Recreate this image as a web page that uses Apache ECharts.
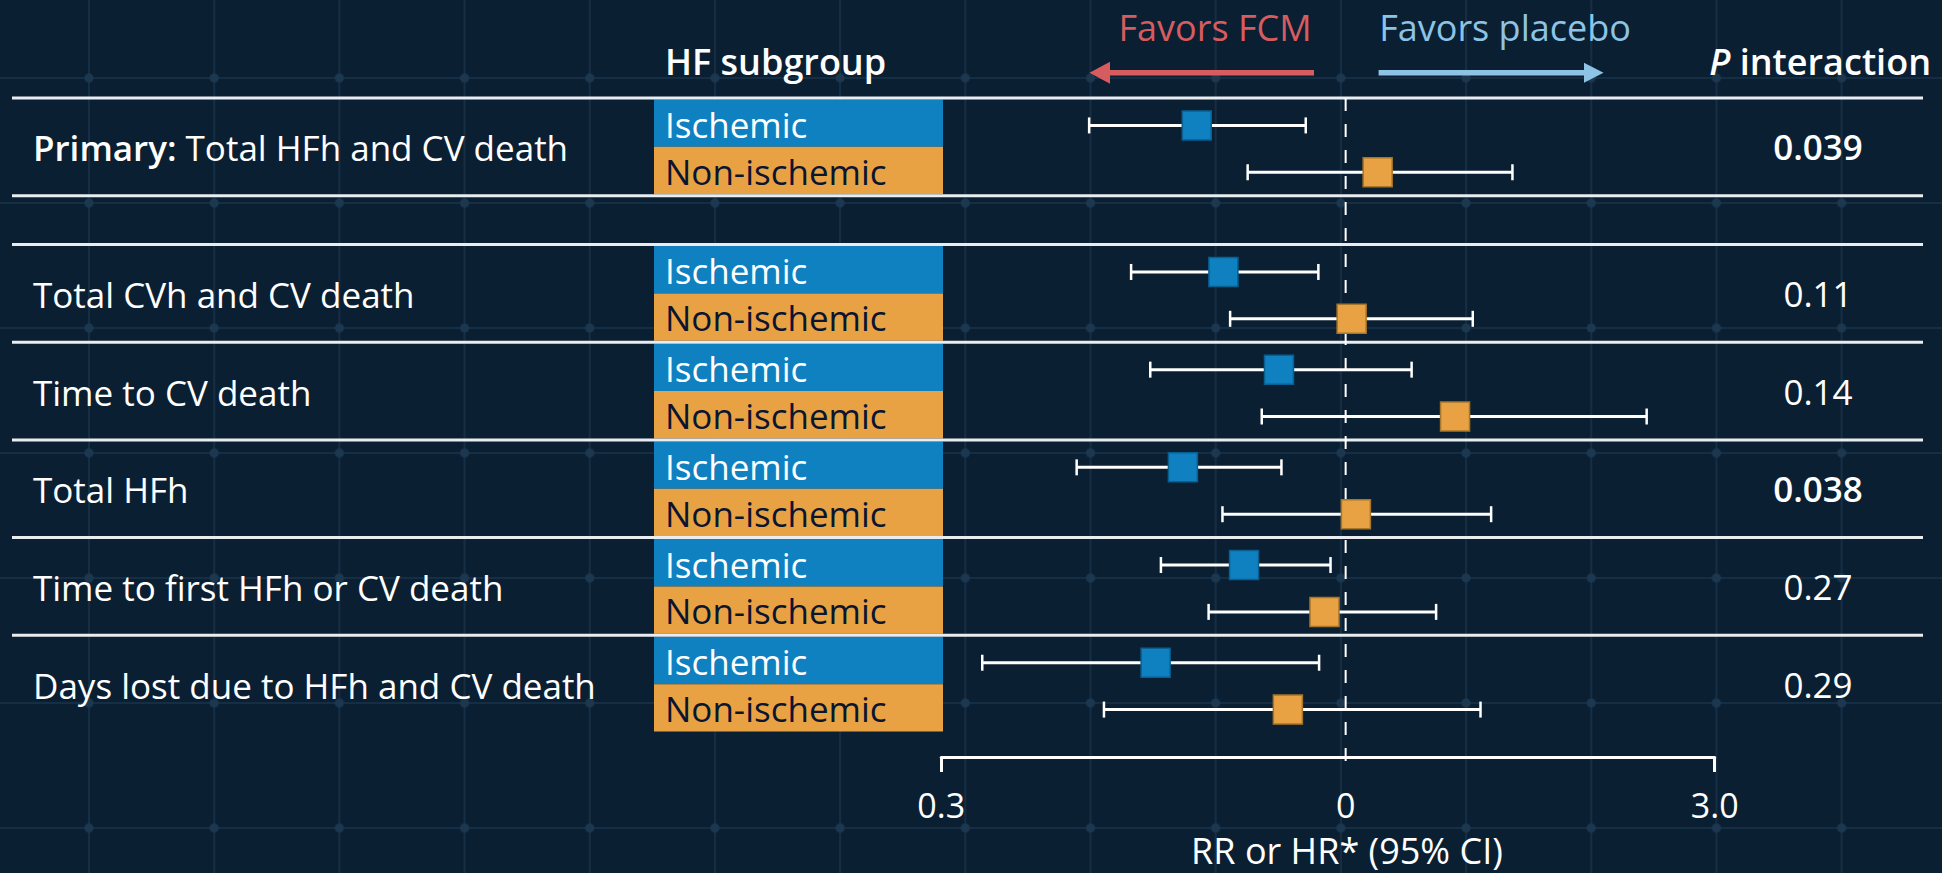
<!DOCTYPE html>
<html>
<head>
<meta charset="utf-8">
<script src="https://cdn.jsdelivr.net/npm/echarts@6/dist/echarts.min.js"></script>
<style>
html, body { margin: 0; padding: 0; width: 1942px; height: 873px; overflow: hidden; background: #0B1F32; }
#chart {
  width: 1942px; height: 873px;
  background-color: #0B1F32;
  background-image:
    radial-gradient(circle at center, #1C3850 0px, #1C3850 4px, transparent 5px),
    linear-gradient(to right, #162E44 2px, transparent 2px),
    linear-gradient(to bottom, #162E44 2px, transparent 2px);
  background-size: 125.2px 125px, 125.2px 125px, 125.2px 125px;
  background-position: 26.4px 15.5px, 88px 77px, 88px 77px;
}
</style>
</head>
<body>
<div id="chart"></div>
<script>
// ---------------- data ----------------
const outcomePrefix = ['Primary:', '', '', '', '', ''];
const outcomeNames = [
  'Total HFh and CV death',
  'Total CVh and CV death',
  'Time to CV death',
  'Total HFh',
  'Time to first HFh or CV death',
  'Days lost due to HFh and CV death'
];
const subgroups = ['Ischemic', 'Non-ischemic'];
const pInteraction = ['0.039', '0.11', '0.14', '0.038', '0.27', '0.29'];
const pSignificant = [true, false, false, true, false, false];

const ischemicEst  = [0.642, 0.695, 0.820, 0.616, 0.739, 0.568];
const ischemicLow  = [0.466, 0.528, 0.559, 0.449, 0.577, 0.339];
const ischemicHigh = [0.888, 0.922, 1.217, 0.826, 0.956, 0.924];

const nonIschemicEst  = [1.100, 1.018, 1.385, 1.031, 0.939, 0.842];
const nonIschemicLow  = [0.747, 0.709, 0.779, 0.693, 0.665, 0.487];
const nonIschemicHigh = [1.643, 1.460, 2.450, 1.542, 1.309, 1.494];

const tickValues = [0.3, 1, 3];
const tickLabels = ['0.3', '0', '3.0'];
const bracketTicks = [0.3, 3];
const axisTitle = 'RR or HR* (95% CI)';
const headerSubgroup = 'HF subgroup';
const headerP = 'P';
const headerInteraction = ' interaction';
const favorsLeft = 'Favors FCM';
const favorsRight = 'Favors placebo';
const nullValue = 1;

// ---------------- layout ----------------
// outcome 0 uses slots 0-1, slot 2 is a spacer, outcome i>0 uses slots 2i+1 and 2i+2
function slotOf(i) { return i === 0 ? 0 : 2 * i + 1; }
const slotNames = Array.from({ length: 13 }, (_, k) => 'slot' + k);

const FONT = '"Open Sans", Lato, sans-serif';
const WHITE = '#FFFFFF';
const BLUE = '#0F80C0';
const ORANGE = '#E8A243';
const NAVY = '#0B1530';

const chart = echarts.init(document.getElementById('chart'), null, { renderer: 'svg' });

function tickLabelFor(v) {
  let best = 0, bd = Infinity;
  tickValues.forEach((t, k) => { const d = Math.abs(Math.log(t) - Math.log(v)); if (d < bd) { bd = d; best = k; } });
  return tickLabels[best];
}

function whiskerRender(offsetY) {
  return function (params, api) {
    const s = api.value(2);
    const p1 = api.coord([api.value(0), s]);
    const p2 = api.coord([api.value(1), s]);
    const y = p1[1] + offsetY;
    const cap = 8;
    return {
      type: 'group',
      children: [
        { type: 'line', shape: { x1: p1[0], y1: y, x2: p2[0], y2: y }, style: { stroke: WHITE, lineWidth: 3 } },
        { type: 'line', shape: { x1: p1[0], y1: y - cap, x2: p1[0], y2: y + cap }, style: { stroke: WHITE, lineWidth: 2.5 } },
        { type: 'line', shape: { x1: p2[0], y1: y - cap, x2: p2[0], y2: y + cap }, style: { stroke: WHITE, lineWidth: 2.5 } }
      ]
    };
  };
}

const option = {
  animation: false,
  backgroundColor: 'transparent',
  grid: { left: 941.2, right: 227.3, top: 98, bottom: 139.3 },
  xAxis: {
    type: 'log',
    logBase: 10,
    min: 0.3,
    max: 3,
    offset: 24,
    axisLine: { show: true, lineStyle: { color: WHITE, width: 3 } },
    axisTick: { show: true, customValues: bracketTicks, length: 15, inside: false, lineStyle: { color: WHITE, width: 3 } },
    axisLabel: {
      show: true, customValues: tickValues, margin: 31,
      color: WHITE, fontSize: 34, fontFamily: FONT,
      formatter: v => tickLabelFor(v)
    },
    splitLine: { show: false },
    minorTick: { show: false },
    name: axisTitle,
    nameLocation: 'middle',
    nameGap: 75,
    nameTextStyle: { color: WHITE, fontSize: 36, fontFamily: FONT, padding: [0, 0, 0, 38] }
  },
  yAxis: {
    type: 'category',
    data: slotNames,
    inverse: true,
    show: false
  },
  graphic: [
    { type: 'text', x: 665, y: 61, style: { text: headerSubgroup, fill: WHITE, fontSize: 36, fontWeight: 600, fontFamily: FONT, verticalAlign: 'middle' } },
    { type: 'text', x: 1931, y: 61, style: {
        text: '{i|' + headerP + '}{n|' + headerInteraction + '}', fill: WHITE, align: 'right', verticalAlign: 'middle',
        rich: {
          i: { fontSize: 36, fontWeight: 600, fontStyle: 'italic', fontFamily: FONT, fill: WHITE },
          n: { fontSize: 36, fontWeight: 600, fontFamily: FONT, fill: WHITE }
        } } },
    { type: 'text', x: 1215, y: 27, style: { text: favorsLeft, fill: '#D65C5F', fontSize: 36, fontFamily: FONT, align: 'center', verticalAlign: 'middle' } },
    { type: 'text', x: 1505, y: 27, style: { text: favorsRight, fill: '#8DC4E5', fontSize: 36, fontFamily: FONT, align: 'center', verticalAlign: 'middle' } },
    { type: 'line', shape: { x1: 1314, y1: 72.7, x2: 1106, y2: 72.7 }, style: { stroke: '#D65C5F', lineWidth: 5.5 } },
    { type: 'polygon', shape: { points: [[1089.5, 72.7], [1110, 61.7], [1110, 83.7]] }, style: { fill: '#D65C5F' } },
    { type: 'line', shape: { x1: 1378.6, y1: 72.7, x2: 1588, y2: 72.7 }, style: { stroke: '#8DC4E5', lineWidth: 5.5 } },
    { type: 'polygon', shape: { points: [[1603.5, 72.7], [1584, 62.7], [1584, 82.7]] }, style: { fill: '#8DC4E5' } }
  ],
  series: [
    {
      // table: row labels, subgroup boxes, P values, separator lines
      type: 'custom',
      z: 1,
      clip: false,
      silent: true,
      encode: { x: 0, y: 1 },
      data: outcomeNames.map((_, i) => [nullValue, slotOf(i), i]),
      renderItem: function (params, api) {
        const i = api.value(2);
        const s = api.value(1);
        const c = api.coord([nullValue, s]);
        const band = api.size([0, 1])[1];
        const top = c[1] - band / 2;
        const mid = top + band;
        const children = [];
        children.push({ type: 'rect', shape: { x: 654, y: top + 1.5, width: 289, height: band - 1.5 }, style: { fill: BLUE } });
        children.push({ type: 'rect', shape: { x: 654, y: mid, width: 289, height: band - 1.5 }, style: { fill: ORANGE } });
        children.push({ type: 'text', style: { text: subgroups[0], x: 665, y: top + band / 2 + 2, fill: WHITE, fontSize: 35, fontFamily: FONT, verticalAlign: 'middle' } });
        children.push({ type: 'text', style: { text: subgroups[1], x: 665, y: mid + band / 2, fill: NAVY, fontSize: 35, fontFamily: FONT, verticalAlign: 'middle' } });
        const label = outcomePrefix[i] ? '{b|' + outcomePrefix[i] + '} ' + outcomeNames[i] : outcomeNames[i];
        children.push({ type: 'text', style: {
          text: label, x: 33, y: mid + 1, fill: WHITE, fontSize: 35, fontFamily: FONT, verticalAlign: 'middle',
          rich: { b: { fontWeight: 600, fontSize: 35, fontFamily: FONT, fill: WHITE } }
        } });
        children.push({ type: 'text', style: {
          text: pInteraction[i], x: 1818, y: mid, fill: WHITE, fontSize: 35, fontFamily: FONT,
          fontWeight: pSignificant[i] ? 600 : 'normal', align: 'center', verticalAlign: 'middle'
        } });
        children.push({ type: 'line', shape: { x1: 12, y1: top, x2: 1923, y2: top }, style: { stroke: '#E9EDF0', lineWidth: 3 } });
        if (i === 0) {
          children.push({ type: 'line', shape: { x1: 12, y1: top + 2 * band, x2: 1923, y2: top + 2 * band }, style: { stroke: '#E9EDF0', lineWidth: 3 } });
        }
        return { type: 'group', children: children };
      }
    },
    {
      // null reference line at RR = 1
      type: 'custom',
      z: 2,
      clip: false,
      silent: true,
      encode: { x: 0, y: 1 },
      data: [[nullValue, 0]],
      renderItem: function (params, api) {
        const band = api.size([0, 1])[1];
        const a = api.coord([nullValue, 0]);
        const b = api.coord([nullValue, slotNames.length - 1]);
        return { type: 'line', shape: { x1: a[0], y1: a[1] - band / 2, x2: b[0], y2: b[1] + band / 2 + 41 },
          style: { stroke: WHITE, lineWidth: 2, lineDash: [13, 13] } };
      }
    },
    {
      type: 'custom', name: subgroups[0], z: 3, silent: true,
      encode: { x: [0, 1], y: 2 },
      data: outcomeNames.map((_, i) => [ischemicLow[i], ischemicHigh[i], slotOf(i)]),
      renderItem: whiskerRender(3)
    },
    {
      type: 'custom', name: subgroups[1], z: 3, silent: true,
      encode: { x: [0, 1], y: 2 },
      data: outcomeNames.map((_, i) => [nonIschemicLow[i], nonIschemicHigh[i], slotOf(i) + 1]),
      renderItem: whiskerRender(1)
    },
    {
      type: 'scatter', name: subgroups[0], z: 4, silent: true,
      symbol: 'rect', symbolSize: 29, symbolOffset: [0, 3],
      itemStyle: { color: BLUE, borderColor: '#0A5F92', borderWidth: 1.5, opacity: 1 },
      data: outcomeNames.map((_, i) => [ischemicEst[i], slotOf(i)])
    },
    {
      type: 'scatter', name: subgroups[1], z: 4, silent: true,
      symbol: 'rect', symbolSize: 29, symbolOffset: [0, 1],
      itemStyle: { color: ORANGE, borderColor: '#A87628', borderWidth: 1.5, opacity: 1 },
      data: outcomeNames.map((_, i) => [nonIschemicEst[i], slotOf(i) + 1])
    }
  ]
};
chart.setOption(option);
</script>
</body>
</html>
